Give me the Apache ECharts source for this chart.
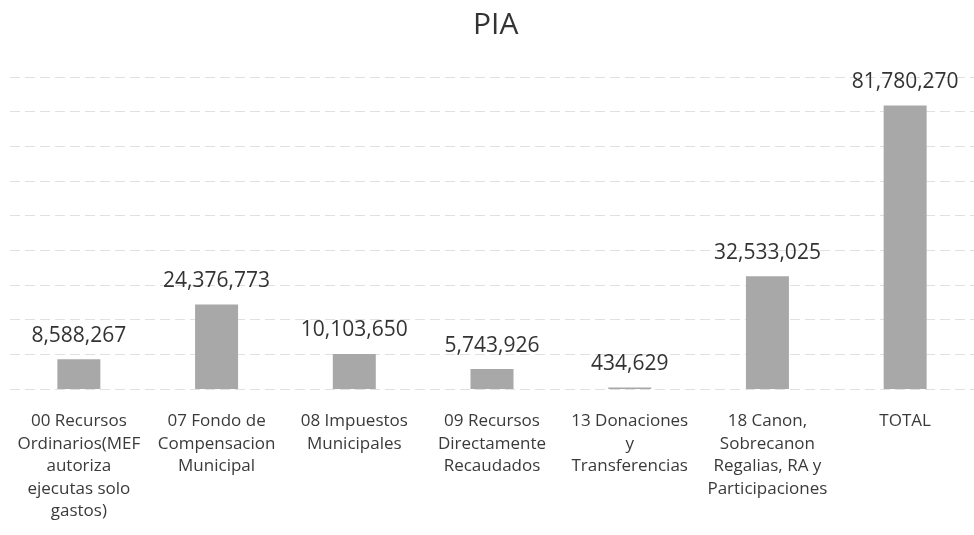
<!DOCTYPE html>
<html>
<head>
<meta charset="utf-8">
<script src="https://cdn.jsdelivr.net/npm/echarts@6/dist/echarts.min.js"></script>
<style>
  html, body { margin: 0; padding: 0; background: #fff; }
  #chart { width: 974px; height: 535px; }
</style>
</head>
<body>
<div id="chart"></div>
<script>
// fuentes de financiamiento (PIA)
var categories = [
  '00 Recursos\nOrdinarios(MEF\nautoriza\nejecutas solo\ngastos)',
  '07 Fondo de\nCompensacion\nMunicipal',
  '08 Impuestos\nMunicipales',
  '09 Recursos\nDirectamente\nRecaudados',
  '13 Donaciones\ny\nTransferencias',
  '18 Canon,\nSobrecanon\nRegalias, RA y\nParticipaciones',
  'TOTAL'
]
var piaValues = [8588267, 24376773, 10103650, 5743926, 434629, 32533025, 81780270]

var chart = echarts.init(document.getElementById('chart'))

chart.setOption({
  animation: false,
  backgroundColor: '#ffffff',
  textStyle: { fontFamily: 'Open Sans' },
  title: {
    text: 'PIA',
    left: 468,
    top: 5,
    textStyle: {
      color: '#333333',
      fontSize: 30,
      fontWeight: 400,
      fontFamily: 'Open Sans'
    }
  },
  grid: {
    left: 10,
    right: -6,
    top: 77,
    bottom: 146,
    containLabel: false
  },
  xAxis: {
    type: 'category',
    data: categories,
    axisLine: { show: false },
    axisTick: { show: false },
    axisLabel: {
      interval: 0,
      margin: 21,
      color: '#3a3a3a',
      fontSize: 17,
      lineHeight: 22.5,
      fontFamily: 'Open Sans'
    }
  },
  yAxis: {
    type: 'value',
    min: 0,
    max: 90000000,
    interval: 10000000,
    axisLabel: { show: false },
    axisLine: { show: false },
    axisTick: { show: false },
    splitLine: {
      lineStyle: { color: '#e0e0e0', type: [10, 5], width: 1 }
    }
  },
  series: [
    {
      name: 'PIA',
      type: 'bar',
      data: piaValues,
      barWidth: 43,
      itemStyle: { color: '#a8a8a8' },
      label: {
        show: true,
        position: 'top',
        distance: 13,
        color: '#333333',
        fontSize: 21,
        fontFamily: 'Open Sans',
        formatter: function (p) {
          return p.value.toLocaleString('en-US')
        }
      }
    }
  ]
})
</script>
</body>
</html>
